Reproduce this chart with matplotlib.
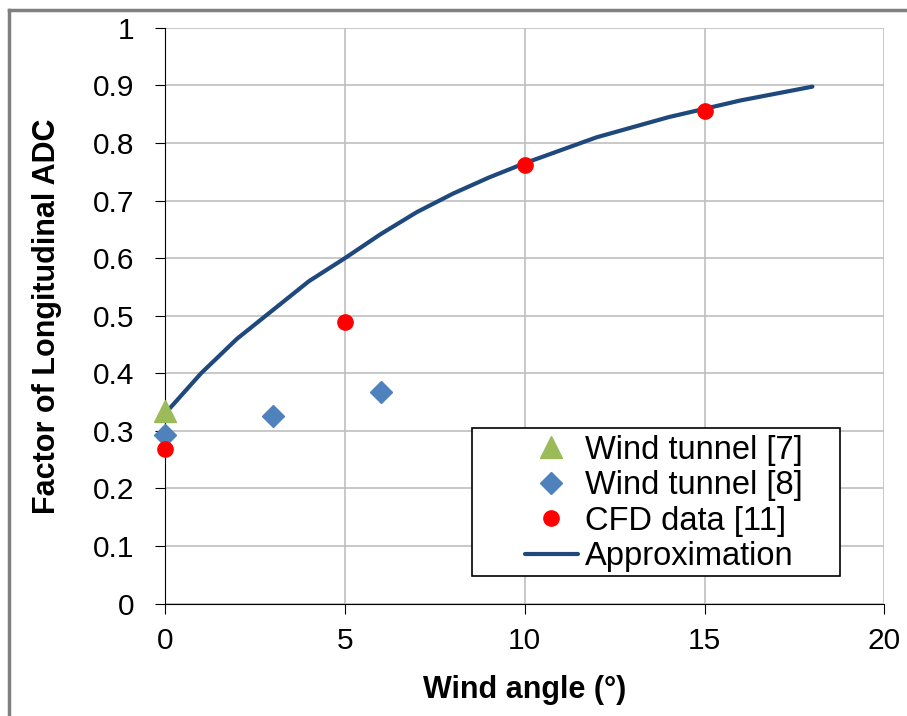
import matplotlib
matplotlib.use("Agg")
from matplotlib import pyplot as plt
from matplotlib.patches import Rectangle
from matplotlib.lines import Line2D

plt.rcParams['font.family'] = ['Liberation Sans', 'DejaVu Sans']

# Wind tunnel [7]
wt7_x = [0]
wt7_y = [0.335]

# Wind tunnel [8]
wt8_x = [0, 3, 6]
wt8_y = [0.292, 0.325, 0.367]

# CFD data [11]
cfd_x = [0, 5, 10, 15]
cfd_y = [0.268, 0.489, 0.762, 0.855]

# Approximation curve
approx_x = [0, 1, 2, 3, 4, 5, 6, 7, 8, 9, 10, 12, 14, 16, 17, 18]
approx_y = [0.33, 0.40, 0.46, 0.51, 0.56, 0.60, 0.642, 0.68, 0.712, 0.74, 0.765,
            0.81, 0.845, 0.874, 0.886, 0.898]

x_ticks = [0, 5, 10, 15, 20]
y_ticks = [0, 0.1, 0.2, 0.3, 0.4, 0.5, 0.6, 0.7, 0.8, 0.9, 1]
y_labels = ["0", "0.1", "0.2", "0.3", "0.4", "0.5", "0.6", "0.7", "0.8", "0.9", "1"]

fig = plt.figure(figsize=(9.07, 7.16), dpi=100)
ax = fig.add_axes([0.182, 0.157, 0.793, 0.804])

ax.plot(approx_x, approx_y, color='#1F497D', linewidth=3, label='Approximation',
        solid_capstyle='round', zorder=3)
ax.plot(wt7_x, wt7_y, linestyle='none', marker='^', markersize=16, color='#9BBB59',
        label='Wind tunnel [7]', zorder=7, clip_on=False)
ax.plot(wt8_x, wt8_y, linestyle='none', marker='D', markersize=11.5, color='#4F81BD',
        label='Wind tunnel [8]', zorder=7, clip_on=False)
ax.plot(cfd_x, cfd_y, linestyle='none', marker='o', markersize=11, color='#FF0000',
        label='CFD data [11]', zorder=8, clip_on=False)

ax.set_xlim(0, 20)
ax.set_ylim(0, 1)
ax.set_xticks(x_ticks)
ax.set_yticks(y_ticks)
ax.set_yticklabels(y_labels)
ax.tick_params(axis='both', labelsize=21.5, direction='out', length=7, color='black')
ax.tick_params(axis='x', pad=10)
ax.tick_params(axis='y', pad=15)
ax.grid(True, color='#BFBFBF', linewidth=1.2)
ax.set_axisbelow(True)
for side in ['top', 'right']:
    ax.spines[side].set_visible(False)
ax.spines['left'].set_color('black')
ax.spines['bottom'].set_color('black')

ax.set_xlabel('Wind angle (°)', fontsize=22, fontweight='bold', labelpad=14)
ax.set_ylabel('Factor of Longitudinal ADC', fontsize=22, fontweight='bold', labelpad=22)

# legend box drawn separately (Excel-style centred entries)
ax.add_patch(Rectangle((0.427, 0.0486), 0.512, 0.257, transform=ax.transAxes,
                       facecolor='white', edgecolor='black', linewidth=1.2,
                       zorder=9, clip_on=False))
handles, labels = ax.get_legend_handles_labels()
order = [1, 2, 3, 0]
leg = ax.legend([handles[i] for i in order], [labels[i] for i in order],
                loc='center left', bbox_to_anchor=(0.5, 0.174), fontsize=23.5,
                frameon=False, handlelength=1.63, handletextpad=0.22,
                labelspacing=0.14, borderpad=0, borderaxespad=0)
leg.set_zorder(10)

# chart-area border (screenshot is cropped, so only top and left edges show)
fig.add_artist(Line2D([0.01, 1.0], [0.986, 0.986], transform=fig.transFigure,
                      color='#808080', linewidth=2.5))
fig.add_artist(Line2D([0.01, 0.01], [0.0, 0.986], transform=fig.transFigure,
                      color='#808080', linewidth=2.5))

fig.savefig('out.png', dpi=100)
